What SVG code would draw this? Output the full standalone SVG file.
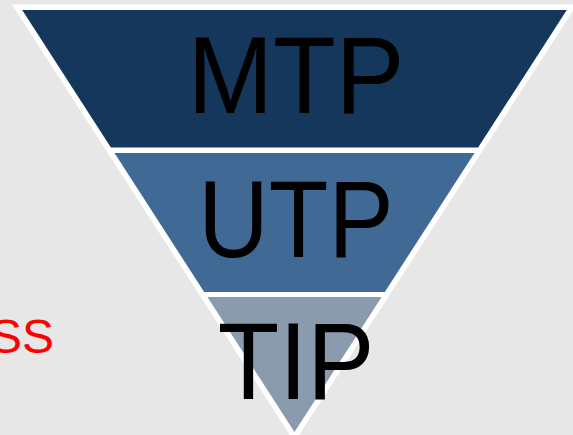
<svg xmlns="http://www.w3.org/2000/svg" width="573" height="435" viewBox="0 0 573 435">
<style>
.lbl{font-family:"Liberation Sans",Arial,sans-serif;font-size:110px;fill:#000}
.band{stroke:none}
</style>
<rect x="0" y="0" width="573" height="435" fill="#e7e7e7"/>
<g id="funnel-outline">
<polygon points="22,10 567,10 294.5,432" fill="#ffffff" stroke="#ffffff" stroke-width="11" stroke-linejoin="miter" stroke-miterlimit="10"/>
</g>
<g id="node-mtp">
<polygon class="band" points="22.2,10 566.8,10 478.1,147.5 110.9,147.5" fill="#15375c"/>
<text class="lbl" x="187.4" y="113" textLength="217" lengthAdjust="spacingAndGlyphs">MTP</text>
</g>
<g id="node-utp">
<polygon class="band" points="114.5,153 474.5,153 384.8,292 204.2,292" fill="#406a95"/>
<text class="lbl" x="198.2" y="256.5" textLength="195.4" lengthAdjust="spacingAndGlyphs">UTP</text>
</g>
<g id="node-tip">
<polygon class="band" points="207.4,297 381.6,297 294.5,432" fill="#8a9bae"/>
<text class="lbl" x="217.7" y="399" textLength="156.6" lengthAdjust="spacingAndGlyphs">TIP</text>
</g>
<g id="connectors"></g>
<g id="side-label">
<text x="-10" y="353" font-family="'Liberation Sans',Arial,sans-serif" font-size="48" fill="#ff0000">SS</text>
</g>
</svg>
